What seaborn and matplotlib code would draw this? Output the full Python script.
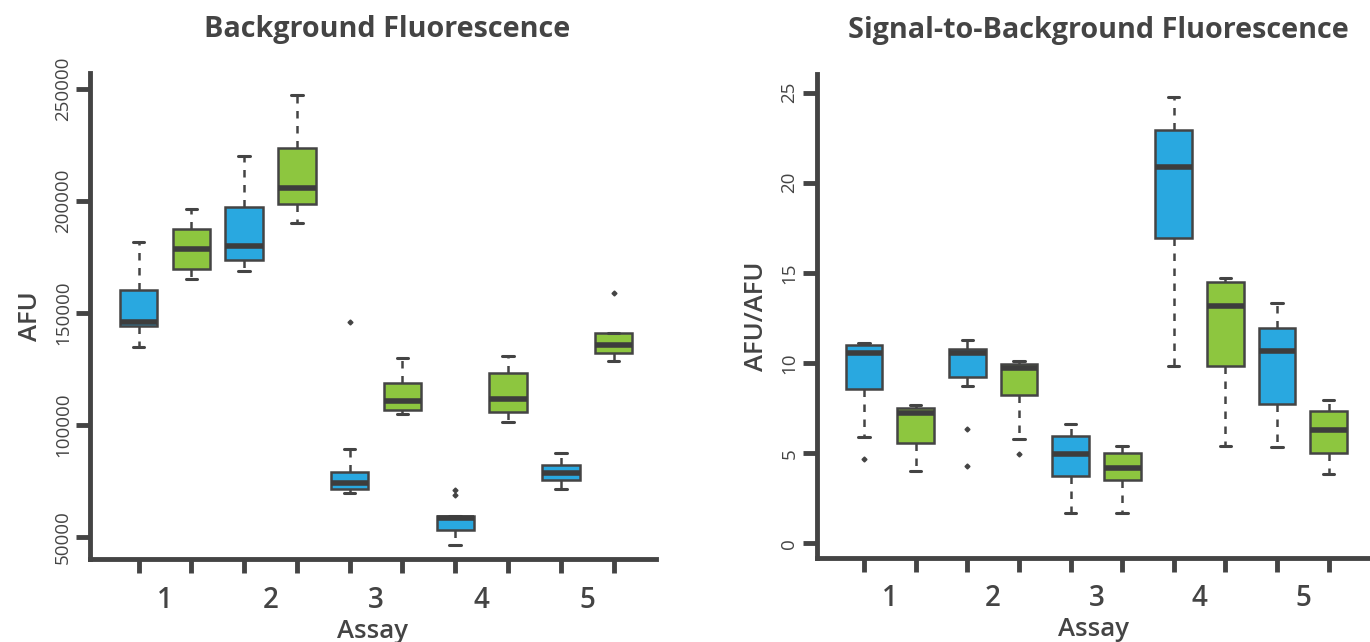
import pandas as pd
import seaborn as sns
import matplotlib.pyplot as plt

# sample values (one list per box)
slots = ["1a", "1b", "2a", "2b", "3a", "3b", "4a", "4b", "5a", "5b"]
assay_labels = ["1", "2", "3", "4", "5"]

bg_1_blue = [134700, 140000, 144340, 145200, 146120, 152000, 160270, 170000, 181830]
bg_1_green = [165320, 167500, 169510, 174000, 178710, 183000, 187370, 192000, 196570]
bg_2_blue = [168890, 171000, 173530, 176500, 180050, 188000, 197190, 208000, 220090]
bg_2_green = [190320, 194000, 198530, 202000, 205940, 214000, 223530, 236000, 247460]
bg_3_blue = [69340, 70300, 71300, 72500, 73810, 76500, 79030, 89300, 146100]
bg_3_green = [104610, 105600, 106570, 108500, 110410, 114500, 118450, 124000, 129920]
bg_4_blue = [46440, 50000, 53140, 56000, 58500, 58800, 59080, 68760, 70680]
bg_4_green = [101040, 103500, 105810, 108500, 111300, 117000, 122910, 127000, 130810]
bg_5_blue = [71130, 73200, 75320, 76800, 78270, 80200, 82150, 84700, 87200]
bg_5_green = [128270, 130100, 132020, 134000, 135850, 138500, 141210, 141210, 158800]

sb_1_blue = [4.70, 5.90, 8.58, 9.6, 10.55, 10.8, 10.98, 11.05, 11.11]
sb_1_green = [3.99, 4.8, 5.56, 6.4, 7.21, 7.35, 7.49, 7.57, 7.65]
sb_2_blue = [4.27, 6.32, 8.71, 9.24, 9.7, 10.2, 10.55, 10.65, 10.72, 10.80, 10.95, 11.1, 11.26]
sb_2_green = [4.94, 5.79, 8.21, 9.0, 9.72, 9.83, 9.93, 10.0, 10.09]
sb_3_blue = [1.68, 2.7, 3.73, 4.3, 4.94, 5.4, 5.95, 6.3, 6.60]
sb_3_green = [1.68, 2.6, 3.51, 3.85, 4.18, 4.6, 4.99, 5.2, 5.38]
sb_4_blue = [9.83, 13.5, 16.93, 19.0, 20.87, 22.0, 22.92, 23.8, 24.75]
sb_4_green = [5.40, 7.6, 9.86, 11.5, 13.16, 13.8, 14.48, 14.6, 14.71]
sb_5_blue = [5.34, 6.5, 7.73, 9.2, 10.67, 11.3, 11.94, 12.6, 13.33]
sb_5_green = [3.84, 4.4, 5.03, 5.6, 6.27, 6.8, 7.32, 7.6, 7.95]

bg_boxes = [bg_1_blue, bg_1_green, bg_2_blue, bg_2_green, bg_3_blue,
            bg_3_green, bg_4_blue, bg_4_green, bg_5_blue, bg_5_green]
sb_boxes = [sb_1_blue, sb_1_green, sb_2_blue, sb_2_green, sb_3_blue,
            sb_3_green, sb_4_blue, sb_4_green, sb_5_blue, sb_5_green]

BLUE = "#29A8E0"
GREEN = "#8DC63F"
DARK = "#444444"
palette = [BLUE, GREEN] * 5


def to_frame(boxes):
    rows = []
    for slot, vals in zip(slots, boxes):
        for v in vals:
            rows.append((slot, v))
    return pd.DataFrame(rows, columns=["slot", "value"])


sns.set_style("ticks")
plt.rcParams["font.family"] = ["Open Sans", "DejaVu Sans"]
plt.rcParams["text.color"] = DARK
plt.rcParams["axes.labelcolor"] = DARK
plt.rcParams["xtick.color"] = DARK
plt.rcParams["ytick.color"] = DARK

fig = plt.figure(figsize=(13.7, 6.42), dpi=100)
ax1 = fig.add_axes([0.0657, 0.129, 0.413, 0.757])
ax2 = fig.add_axes([0.596, 0.131, 0.404, 0.753])


def draw(ax, boxes, title, title_x, ylabel, yticks, ylabels, ylim):
    df = to_frame(boxes)
    sns.boxplot(data=df, x="slot", y="value", hue="slot", order=slots,
                hue_order=slots, palette=palette, legend=False, ax=ax,
                width=0.71, linewidth=1.8, linecolor=DARK, saturation=1,
                whiskerprops=dict(linestyle=(0, (3, 3)), linewidth=1.8),
                capprops=dict(linewidth=2.2),
                medianprops=dict(linewidth=4, color="#3d3d3d"),
                flierprops=dict(marker="D", markersize=2.5,
                                markerfacecolor=DARK, markeredgecolor=DARK))
    # shorter whisker caps, as in the original
    for ln in ax.lines:
        xd = list(ln.get_xdata())
        yd = list(ln.get_ydata())
        if len(xd) == 2 and yd[0] == yd[1] and abs(xd[1] - xd[0]) < 0.5:
            mid = (xd[0] + xd[1]) / 2
            ln.set_xdata([mid - 0.11, mid + 0.11])
    ax.set_xlim(-0.92, 9.8)
    ax.set_ylim(*ylim)
    ax.set_xticks(range(10))
    ax.set_xticklabels([])
    ax.set_xticks([0.5, 2.5, 4.5, 6.5, 8.5], minor=True)
    ax.set_xticklabels(assay_labels, minor=True, fontweight="semibold")
    ax.tick_params(axis="x", which="major", length=10, width=3.5)
    ax.tick_params(axis="x", which="minor", length=0, labelsize=20, pad=19)
    ax.set_yticks(yticks)
    ax.set_yticklabels(ylabels, rotation=90, va="center")
    ax.tick_params(axis="y", length=10, width=3.5, labelsize=13.5, pad=3)
    for sp in ["top", "right"]:
        ax.spines[sp].set_visible(False)
    for sp in ["left", "bottom"]:
        ax.spines[sp].set_linewidth(3.5)
        ax.spines[sp].set_color(DARK)
    ax.set_xlabel("Assay", fontsize=18.5, labelpad=3, fontweight="semibold")
    ax.set_ylabel(ylabel, fontsize=18.5, labelpad=8, fontweight="semibold")
    ax.set_title(title, fontsize=20.7, fontweight="bold", pad=26, x=title_x)


draw(ax1, bg_boxes, "Background Fluorescence", 0.525, "AFU",
     [50000, 100000, 150000, 200000, 250000],
     ["50000", "100000", "150000", "200000", "250000"], (40000, 257000))
draw(ax2, sb_boxes, "Signal-to-Background Fluorescence", 0.509, "AFU/AFU",
     [0, 5, 10, 15, 20, 25], ["0", "5", "10", "15", "20", "25"], (-0.8, 26))

fig.savefig("out.png", dpi=100)
